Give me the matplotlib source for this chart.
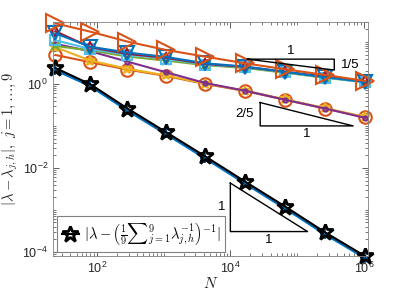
import numpy as np
import matplotlib
matplotlib.use("Agg")
import matplotlib.pyplot as plt
from matplotlib.ticker import LogLocator, NullFormatter

plt.rcParams['font.family'] = ['Liberation Sans', 'DejaVu Sans']
plt.rcParams['mathtext.fontset'] = 'cm'

# number of unknowns
N = [24, 80, 288, 1088, 4224, 16640, 66048, 263168, 1050624]

# |lambda - lambda_{j,h}|, j = 1..9
err1 = [2.2, 0.92, 0.24, 0.066, 0.0174, 0.0044, 0.00112, 0.00027, 0.000073]
err2 = [4.9, 3.3, 2.2, 1.55, 1.0, 0.68, 0.42, 0.26, 0.16]
err3 = [7.5, 3.6, 2.3, 1.6, 1.02, 0.69, 0.43, 0.265, 0.162]
err4 = [9.0, 6.0, 3.4, 1.9, 1.05, 0.69, 0.42, 0.26, 0.155]
err5 = [8.0, 6.3, 4.5, 3.6, 2.8, 2.4, 1.85, 1.4, 1.1]
err6 = [11.0, 6.8, 5.0, 4.0, 2.9, 2.5, 1.9, 1.42, 1.1]
err7 = [18.0, 7.5, 5.2, 4.2, 3.0, 2.55, 1.95, 1.5, 1.15]
err8 = [16.0, 7.7, 5.6, 4.4, 3.1, 2.6, 1.95, 1.45, 1.12]
err9 = [27.8, 17.6, 10.2, 6.45, 4.47, 3.1, 2.24, 1.64, 1.18]
# error of the harmonic mean
err_mean = [2.4, 0.98, 0.26, 0.071, 0.0187, 0.0047, 0.0012, 0.00029, 0.000078]

colors = ['#0072BD', '#D95319', '#EDB120', '#7E2F8E', '#77AC30',
          '#4DBEEE', '#A2142F', '#0072BD', '#D95319']
markers = ['+', 'o', '*', '.', 'x', 's', 'd', 'v', '>']
msizes = [7, 9, 7, 6, 6, 7, 5, 10, 13]
widths = [2.5, 1.5, 1.5, 1.5, 1.5, 1.5, 1.5, 1.5, 1.5]
errs = [err1, err2, err3, err4, err5, err6, err7, err8, err9]

fig = plt.figure(figsize=(4.07, 3.05), dpi=100)
ax = fig.add_axes([0.13, 0.161, 0.774, 0.767])
ax.set_xscale('log')
ax.set_yscale('log')

for e, c, m, s, w in zip(errs, colors, markers, msizes, widths):
    ax.plot(N, e, color=c, marker=m, ms=s, mfc='none', mew=1.5, lw=w, clip_on=False)

hm, = ax.plot(N, err_mean, color='k', marker='*', ms=12, mfc='none', mew=2, lw=1.5,
              clip_on=False,
              label=r'$|\lambda-\left(\frac{1}{9}{\sum}_{j=1}^{9}\lambda_{j,h}^{-1}\right)^{-1}|$')

# slope triangles
x1, x2, yt = 1.8e4, 3.6e5, 3.9
yb = yt * (x1 / x2) ** 0.2
ax.plot([x1, x2, x2, x1], [yt, yt, yb, yt], color='k', lw=1)
ax.text(np.sqrt(x1 * x2), yt * 1.12, '1', ha='center', va='bottom', fontsize=9.5)
ax.text(x2 * 1.25, np.sqrt(yt * yb), '1/5', ha='left', va='center', fontsize=9.5)

x1, x2, yb = 2.8e4, 6.9e5, 0.1
yt = yb * (x2 / x1) ** 0.4
ax.plot([x1, x1, x2, x1], [yt, yb, yb, yt], color='k', lw=1)
ax.text(x1 / 1.25, np.sqrt(yt * yb), '2/5', ha='right', va='center', fontsize=9.5)
ax.text(np.sqrt(x1 * x2), yb / 1.12, '1', ha='center', va='top', fontsize=9.5)

x1, x2, yb = 1e4, 1.43e5, 3.04e-4
yt = yb * (x2 / x1)
ax.plot([x1, x1, x2, x1], [yt, yb, yb, yt], color='k', lw=1)
ax.text(x1 / 1.2, np.sqrt(yt * yb), '1', ha='right', va='center', fontsize=9.5)
ax.text(np.sqrt(x1 * x2), yb / 1.12, '1', ha='center', va='top', fontsize=9.5)

ax.set_xlim(22, 1.15e6)
ax.set_ylim(8e-5, 30)
ax.set_xticks([1e2, 1e4, 1e6])
ax.set_yticks([1e-4, 1e-2, 1e0])
ax.xaxis.set_minor_locator(LogLocator(base=10, subs=np.arange(1, 10), numticks=50))
ax.yaxis.set_minor_locator(LogLocator(base=10, subs=np.arange(1, 10), numticks=50))
ax.xaxis.set_minor_formatter(NullFormatter())
ax.yaxis.set_minor_formatter(NullFormatter())
ax.tick_params(which='both', direction='in', top=True, right=True, colors='0.25',
               labelsize=9, labelcolor='0.15')
ax.tick_params(which='major', length=4, width=0.6)
ax.tick_params(which='minor', length=2, width=0.5)
for sp in ax.spines.values():
    sp.set_color('0.5')
    sp.set_linewidth(0.6)

ax.set_xlabel(r'$N$', fontsize=11, color='0.15', labelpad=0)
ax.set_ylabel(r'$|\lambda-\lambda_{j,h}|,\ j=1,\ldots,9$', fontsize=10.5, color='0.15', labelpad=2)

leg = ax.legend(handles=[hm], loc='lower left', fontsize=10.5, handlelength=1.2,
                handletextpad=0.3, borderpad=0.3, fancybox=False, framealpha=1,
                borderaxespad=0.3)
leg.get_frame().set_edgecolor('0.5')
leg.get_frame().set_linewidth(0.8)

plt.savefig('out.png', dpi=100)
